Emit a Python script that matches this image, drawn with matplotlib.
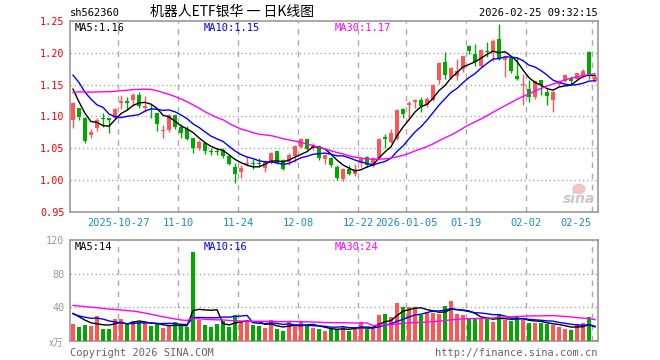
import numpy as np
import pandas as pd
import matplotlib
matplotlib.use('Agg')
import matplotlib.pyplot as plt
from matplotlib.patches import Ellipse

plt.rcParams['font.family'] = ['DejaVu Sans Mono', 'Noto Sans CJK SC']

# ---- donnees (88 seances, 2025-10-15 -> 2026-02-25) ----
opens = [1.094, 1.113, 1.098, 1.071, 1.082, 1.097, 1.097, 1.097, 1.121, 1.125,
         1.1255, 1.133, 1.1135, 1.1125, 1.105, 1.077, 1.0786, 1.102, 1.083, 1.081,
         1.0656, 1.050, 1.0578, 1.0456, 1.0455, 1.0474, 1.0385, 1.0213, 1.0125, 1.025,
         1.0257, 1.027, 1.0187, 1.0276, 1.0458, 1.0318, 1.0281, 1.038, 1.052, 1.064,
         1.051, 1.0536, 1.0333, 1.0344, 1.0203, 1.002, 1.0172, 1.0094, 1.0276, 1.036,
         1.0224, 1.0344, 1.0672, 1.0604, 1.0646, 1.1115, 1.1188, 1.1229, 1.1255, 1.1177,
         1.1255, 1.1578, 1.1854, 1.161, 1.163, 1.174, 1.2104, 1.1984, 1.180, 1.2036,
         1.202, 1.222, 1.189, 1.1917, 1.1635, 1.150, 1.1427, 1.1307, 1.1568, 1.1385,
         1.1255, 1.1516, 1.1557, 1.1604, 1.1583, 1.1646, 1.202, 1.1557]
highs = [1.122, 1.114, 1.099, 1.081, 1.097, 1.106, 1.098, 1.113, 1.134, 1.131,
         1.137, 1.1385, 1.132, 1.120, 1.106, 1.086, 1.1036, 1.103, 1.089, 1.085,
         1.066, 1.063, 1.059, 1.051, 1.050, 1.050, 1.0396, 1.0266, 1.024, 1.038,
         1.0328, 1.0344, 1.031, 1.045, 1.0465, 1.033, 1.042, 1.055, 1.0656, 1.065,
         1.058, 1.056, 1.041, 1.036, 1.024, 1.0187, 1.024, 1.025, 1.037, 1.038,
         1.0354, 1.0667, 1.0724, 1.0797, 1.111, 1.1135, 1.1245, 1.128, 1.1307, 1.1307,
         1.1515, 1.1854, 1.201, 1.1776, 1.1906, 1.1958, 1.2125, 1.214, 1.206, 1.2177,
         1.221, 1.246, 1.196, 1.193, 1.193, 1.167, 1.1568, 1.1568, 1.158, 1.1437,
         1.1396, 1.1568, 1.167, 1.1635, 1.169, 1.175, 1.2036, 1.1646]
lows = [1.082, 1.095, 1.059, 1.066, 1.077, 1.083, 1.074, 1.096, 1.112, 1.112,
        1.118, 1.114, 1.107, 1.097, 1.077, 1.067, 1.076, 1.080, 1.066, 1.063,
        1.043, 1.0474, 1.0406, 1.039, 1.039, 1.0344, 1.024, 0.9953, 1.003, 1.0224,
        1.0172, 1.0213, 1.0135, 1.026, 1.026, 1.016, 1.024, 1.029, 1.051, 1.047,
        1.047, 1.032, 1.025, 1.0203, 1.0005, 0.998, 1.0083, 1.0073, 1.0203, 1.020,
        1.0203, 1.0318, 1.051, 1.0588, 1.063, 1.0984, 1.098, 1.114, 1.107, 1.115,
        1.124, 1.1505, 1.1594, 1.1594, 1.158, 1.170, 1.1984, 1.180, 1.1776, 1.193,
        1.187, 1.188, 1.162, 1.1687, 1.1568, 1.1177, 1.1229, 1.128, 1.1333, 1.1177,
        1.107, 1.148, 1.154, 1.1515, 1.157, 1.160, 1.1594, 1.154]
closes = [1.121, 1.0995, 1.062, 1.076, 1.095, 1.096, 1.095, 1.112, 1.125, 1.121,
          1.133, 1.116, 1.116, 1.111, 1.088, 1.079, 1.102, 1.083, 1.0745, 1.0646,
          1.050, 1.0604, 1.0458, 1.0446, 1.0448, 1.0385, 1.0255, 1.0099, 1.0187, 1.0255,
          1.025, 1.026, 1.0297, 1.0432, 1.0276, 1.0177, 1.0396, 1.0536, 1.064, 1.049,
          1.056, 1.0354, 1.0396, 1.024, 1.003, 1.0177, 1.0099, 1.0172, 1.0344, 1.024,
          1.0344, 1.0646, 1.0646, 1.0745, 1.110, 1.1036, 1.1219, 1.1255, 1.1166, 1.128,
          1.150, 1.1838, 1.1646, 1.176, 1.1708, 1.1943, 1.2026, 1.1854, 1.2047, 1.201,
          1.219, 1.191, 1.193, 1.1708, 1.1594, 1.151, 1.1307, 1.156, 1.149, 1.1323,
          1.1385, 1.1557, 1.1646, 1.1557, 1.1682, 1.1708, 1.1646, 1.162]
volumes = [20, 16.4, 18.8, 17.6, 29.6, 14, 14.8, 26, 26, 20.8,
           23.6, 22.4, 20.8, 17.6, 20.4, 15.2, 17.6, 22, 18.8, 16.4,
           106, 24.8, 18.8, 16.4, 20, 23.6, 16.4, 30.8, 22.8, 24.8,
           18.8, 17.6, 15.2, 24.8, 14, 11.6, 23.6, 18.8, 22.4, 18.8,
           15.2, 14, 11.6, 14, 14.8, 17.6, 11.6, 16.4, 22.4, 14.8,
           14.8, 30.8, 32, 28.4, 45.2, 40.4, 40.4, 40.4, 30.8, 34.4,
           33.2, 32, 41.6, 47.6, 32, 30.8, 26.8, 26.8, 26.8, 26.4,
           22.4, 32, 24.8, 23.6, 28.4, 24.8, 21.2, 21.2, 21.2, 20,
           18.8, 16.4, 14.8, 12.8, 20, 21, 28.4, 1.6]

# seances precedentes (hors cadre), estimees d'apres le depart des moyennes mobiles
prior_closes = [1.07, 1.075, 1.08, 1.085, 1.09, 1.09, 1.095, 1.095, 1.10, 1.10,
                1.105, 1.11, 1.12, 1.15, 1.17, 1.18, 1.19, 1.19, 1.19, 1.20,
                1.215, 1.2165, 1.1835, 1.185, 1.135, 1.1995, 1.152, 1.141, 1.1015]
prior_volumes = [38, 40, 42, 45, 40, 38, 42, 44, 40, 41,
                 55, 62, 58, 65, 60, 57, 60, 56, 33, 32,
                 40, 35, 30, 28, 25, 36.4, 38.8, 33.6, 35.2]

tick_idx = [8, 18, 28, 38, 48, 56, 66, 76, 87]
tick_labels = ['2025-10-27', '11-10', '11-24', '12-08', '12-22',
               '2026-01-05', '01-19', '02-02', '02-25']
price_ticks = [0.95, 1.00, 1.05, 1.10, 1.15, 1.20, 1.25]
vol_ticks = [40, 80, 120]
price_legend = ['MA5:1.16', 'MA10:1.15', 'MA30:1.17']
vol_legend = ['MA5:14', 'MA10:16', 'MA30:24']

RED = '#ff5555'
GREEN = '#00a800'
GRID = '#aaaaaa'
FRAME = '#999999'
MA_COLORS = {5: 'black', 10: '#0000ff', 30: '#ff00ff'}

o = np.array(opens); h = np.array(highs); l = np.array(lows); c = np.array(closes)
v = np.array(volumes)
x = np.arange(len(c))
n0 = len(prior_closes)

# moyennes mobiles
s_close = pd.Series(prior_closes + closes)
s_vol = pd.Series(prior_volumes + volumes)
ma_p = {w: s_close.rolling(w, min_periods=1).mean().values[n0:] for w in (5, 10, 30)}
ma_v = {w: s_vol.rolling(w, min_periods=1).mean().values[n0:] for w in (5, 10, 30)}

colors = np.where(c >= o, RED, GREEN)

W, H = 660, 360
fig = plt.figure(figsize=(W / 100, H / 100), dpi=100)
fig.patch.set_facecolor('white')
ax = fig.add_axes([70 / W, 1 - 212 / H, 528 / W, 191 / H])
axv = fig.add_axes([70 / W, 1 - 341 / H, 528 / W, 101 / H])

# ---- graphique des cours ----
ax.vlines(x, l, h, colors=colors, lw=1, zorder=3)
body = np.maximum(np.abs(c - o), 0.0012)
ax.bar(x, body, 0.75, bottom=np.minimum(o, c), color=colors, lw=0, zorder=4)
for w in (5, 10, 30):
    ax.plot(x, ma_p[w], color=MA_COLORS[w], lw=1, zorder=5)

ax.set_xlim(-0.5, len(c) - 0.5)
ax.set_ylim(0.95, 1.25)
for yv in price_ticks[1:-1]:
    ax.axhline(yv, color=GRID, lw=1, ls=(0, (1, 2)), zorder=1)
ax.set_yticks(price_ticks)
ax.set_yticklabels([f'{t:.2f}' for t in price_ticks], color='red', fontsize=7.3)
ax.set_xticks([t - 0.5 for t in tick_idx])
ax.set_xticklabels(tick_labels, color='#1a8ad4', fontsize=7.5)
ax.get_xticklabels()[-1].set_horizontalalignment('right')

# ---- volumes ----
axv.bar(x, v, 0.8, color=colors, lw=0, zorder=3)
for w in (5, 10, 30):
    axv.plot(x, ma_v[w], color=MA_COLORS[w], lw=1, zorder=5)
axv.set_xlim(-0.5, len(c) - 0.5)
axv.set_ylim(0, 120)
for yv in vol_ticks[:-1]:
    axv.axhline(yv, color=GRID, lw=1, ls=(0, (1, 2)), zorder=1)
axv.set_yticks(vol_ticks)
axv.set_yticklabels([str(t) for t in vol_ticks], color=FRAME, fontsize=7.3)
axv.set_xticks([])

for a in (ax, axv):
    for t in tick_idx:
        a.axvline(t - 0.5, color=GRID, lw=1, ls=(0, (4, 4)), zorder=1)
    for sp in a.spines.values():
        sp.set_color(FRAME)
        sp.set_linewidth(1.2)
    a.tick_params(length=0, pad=4)

# ---- textes ----
def ftext(px, py, s, **kw):
    fig.text(px / W, 1 - py / H, s, va='center', **kw)

ftext(70, 13, 'sh562360', fontsize=7.5)
ftext(232, 12, '机器人ETF银华 一 日K线图', ha='center', fontsize=10,
      family=['Noto Sans CJK SC', 'DejaVu Sans'])
ftext(598, 13, '2026-02-25 09:32:15', ha='right', fontsize=7.5)

for px, s, w in zip([75, 204, 335], price_legend, (5, 10, 30)):
    ftext(px, 28, s, fontsize=7.5, color=MA_COLORS[w])
for px, s, w in zip([75, 204, 335], vol_legend, (5, 10, 30)):
    ftext(px, 247, s, fontsize=7.5, color=MA_COLORS[w])

ftext(56, 343, 'x万', ha='center', fontsize=7, color=FRAME,
      family=['Noto Sans CJK SC', 'DejaVu Sans'])
ftext(70, 353, 'Copyright 2026 SINA.COM', fontsize=7.5, color='#666666')
ftext(598, 353, 'http://finance.sina.com.cn', ha='right', fontsize=7.5, color='#666666')

# filigrane sina
fig.patches.append(Ellipse((579 / W, 1 - 189 / H), 12 / W, 9 / H,
                           transform=fig.transFigure, color='#f2b8b8', alpha=0.8, zorder=6))
ftext(579, 199, 'sina', ha='center', fontsize=10, color='#c8c8c8',
      style='italic', weight='bold', family='DejaVu Sans', zorder=7)

fig.savefig('out.png', dpi=100)
